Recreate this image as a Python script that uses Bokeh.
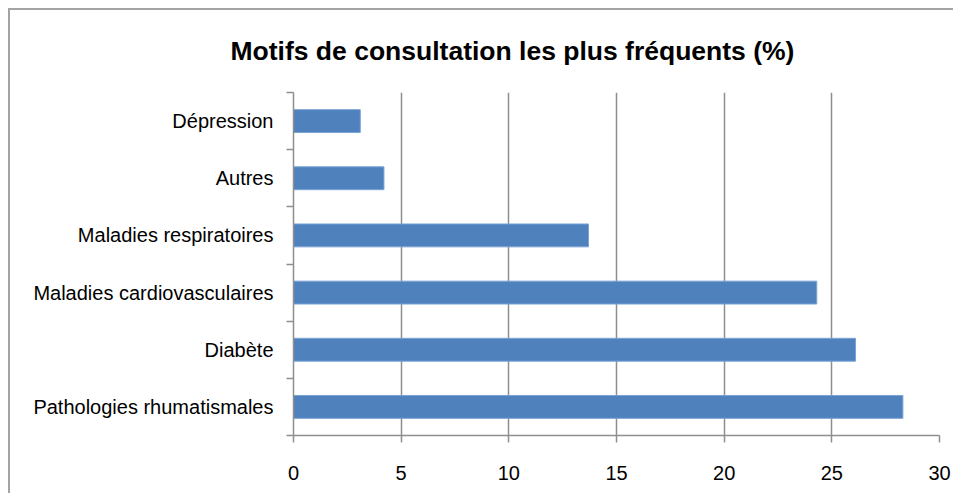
from bokeh.plotting import figure
from bokeh.models import Range1d, FixedTicker, ColumnDataSource
from bokeh.embed import file_html
from bokeh.resources import INLINE

# Data (bottom to top)
categories = ["Pathologies rhumatismales", "Diabète", "Maladies cardiovasculaires",
              "Maladies respiratoires", "Autres", "Dépression"]
values = [28.3, 26.1, 24.3, 13.7, 4.2, 3.1]
x_ticks = [0, 5, 10, 15, 20, 25, 30]
title_text = "Motifs de consultation les plus fréquents (%)"

positions = [i + 0.5 for i in range(len(categories))]
boundaries = list(range(len(categories) + 1))

source = ColumnDataSource(data=dict(y=positions, v=values, cat=categories))

FONT = "Liberation Sans"
GRID = "#8e8e8e"

p = figure(width=945, height=485, output_backend="svg", toolbar_location=None,
           x_range=Range1d(0, 30), y_range=Range1d(0, len(categories)),
           min_border_left=283, min_border_right=16, min_border_top=80, min_border_bottom=60,
           styles={"border-left": "2px solid #a3a3a3", "border-top": "2px solid #a3a3a3",
                   "margin-left": "8px", "margin-top": "8px"})

p.hbar(y="y", right="v", left=0, height=0.4, source=source,
       fill_color="#4F81BD", line_color="#7aa3d6", line_width=1)

p.title.text = title_text
p.title.text_font = FONT
p.title.text_font_size = "26.5px"
p.title.text_font_style = "bold"
p.title.text_color = "#000000"
p.title.align = "left"
p.title.vertical_align = "top"
p.title.offset = -63
p.title.standoff = 50

# x axis
xa = p.xaxis[0]
xa.ticker = FixedTicker(ticks=x_ticks)
xa.axis_line_color = GRID
xa.axis_line_width = 1.5
xa.major_tick_line_color = GRID
xa.major_tick_line_width = 1.5
xa.major_tick_out = 7
xa.major_tick_in = 0
xa.minor_tick_line_color = None
xa.major_label_text_font = FONT
xa.major_label_text_font_size = "20px"
xa.major_label_text_color = "#000000"
xa.major_label_standoff = 23

# y axis
ya = p.yaxis[0]
ya.ticker = FixedTicker(ticks=positions, minor_ticks=boundaries)
ya.major_label_overrides = {pos: cat for pos, cat in zip(positions, categories)}
ya.axis_line_color = GRID
ya.axis_line_width = 1.5
ya.major_tick_out = 0
ya.major_tick_in = 0
ya.major_tick_line_color = None
ya.minor_tick_out = 7
ya.minor_tick_in = 0
ya.minor_tick_line_color = GRID
ya.minor_tick_line_width = 1.5
ya.major_label_text_font = FONT
ya.major_label_text_font_size = "20px"
ya.major_label_text_color = "#000000"
ya.major_label_standoff = 13

# grid
p.xgrid.ticker = FixedTicker(ticks=x_ticks)
p.xgrid.grid_line_color = GRID
p.xgrid.grid_line_width = 1.5
p.ygrid.grid_line_color = None
p.outline_line_color = None
p.background_fill_color = "white"
p.border_fill_color = "white"

open("out.html", "w").write(file_html(p, INLINE))
